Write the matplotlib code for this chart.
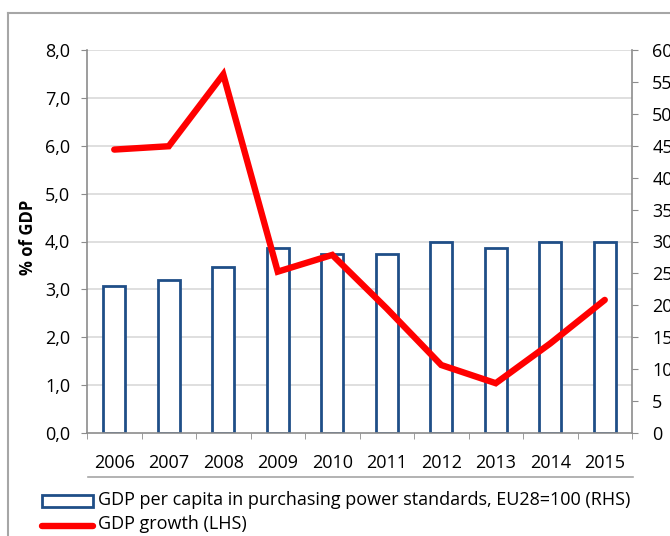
import matplotlib
matplotlib.use("Agg")
import matplotlib.pyplot as plt
from matplotlib.lines import Line2D
from matplotlib.patches import Rectangle
import numpy as np

years = ["2006", "2007", "2008", "2009", "2010", "2011", "2012", "2013", "2014", "2015"]
gdp_pc_pps = [23, 24, 26, 29, 28, 28, 30, 29, 30, 30]
gdp_growth = [5.92, 5.99, 7.49, 3.37, 3.72, 2.6, 1.42, 1.04, 1.87, 2.78]
left_ticks = [0, 1, 2, 3, 4, 5, 6, 7, 8]
right_ticks = [0, 5, 10, 15, 20, 25, 30, 35, 40, 45, 50, 55, 60]

plt.rcParams['font.family'] = ['Open Sans', 'DejaVu Sans']

W, H = 670, 536
fig = plt.figure(figsize=(W / 100, H / 100), dpi=100)

def fx(px):
    return px / W

def fy(py):
    return 1 - py / H

FS = 13
x0, x1, y0, y1 = 87, 632, 50, 433
ax = fig.add_axes([fx(x0), fy(y1), fx(x1) - fx(x0), fy(y0) - fy(y1)])
ax2 = ax.twinx()

x = np.arange(len(years))
blue = "#1F4E87"
red = "#FF0000"
gray = "#8C8C8C"

ax2.bar(x, gdp_pc_pps, width=0.41, facecolor="white", edgecolor=blue, linewidth=2.0, zorder=2)
ax2.set_ylim(0, 60)
ax2.set_yticks(right_ticks)
ax2.set_yticklabels([str(t) for t in right_ticks])

ax.set_zorder(ax2.get_zorder() + 1)
ax.patch.set_visible(False)
ax.plot(x, gdp_growth, color=red, linewidth=4.6, solid_capstyle="round", solid_joinstyle="miter", zorder=3)
ax.set_ylim(0, 8)
ax.set_yticks(left_ticks)
ax.set_yticklabels([f"{t:.1f}".replace(".", ",") for t in left_ticks])
ax.set_xlim(-0.5, len(years) - 0.5)
ax.set_xticks(x)
ax.set_xticklabels(years)
ax.set_xticks(np.arange(-0.5, len(years)), minor=True)
ax.tick_params(axis="x", which="major", length=0, pad=15, labelsize=FS)
ax.tick_params(axis="x", which="minor", length=4.5, color=gray, direction="out")

for t in left_ticks[1:]:
    ax2.axhline(t * 7.5, color="#D9D9D9", linewidth=1.2, zorder=0)

for a in (ax, ax2):
    for s in a.spines.values():
        s.set_color(gray)
        s.set_linewidth(1.2)
    a.spines["top"].set_visible(False)
ax.spines["right"].set_visible(False)
ax2.spines["left"].set_visible(False)
ax2.spines["bottom"].set_visible(False)

ax.tick_params(axis="y", length=4.5, color=gray, labelsize=FS, pad=7.5)
ax2.tick_params(axis="y", length=4.5, color=gray, labelsize=FS, pad=10)

fig.text(fx(28), fy(237), "% of GDP", fontsize=12, fontweight="bold", rotation=90,
         ha="center", va="center")

# outer frame lines
fig.add_artist(Line2D([fx(8), fx(8)], [fy(13), 0], color="#A6A6A6", linewidth=1.5))
fig.add_artist(Line2D([fx(8), 1], [fy(13), fy(13)], color="#A6A6A6", linewidth=1.5))
# line below the category labels
fig.add_artist(Line2D([fx(88), fx(633)], [fy(477), fy(477)], color="#A6A6A6", linewidth=1.2))

# legend
fig.add_artist(Rectangle((fx(42), fy(507)), fx(93) - fx(42), fy(495) - fy(507),
                         facecolor="white", edgecolor=blue, linewidth=2.0))
fig.text(fx(98), fy(500), "GDP per capita in purchasing power standards, EU28=100 (RHS)",
         fontsize=FS, va="center", ha="left")
fig.add_artist(Line2D([fx(42), fx(93)], [fy(526), fy(526)], color=red, linewidth=4.6,
                      solid_capstyle="round"))
fig.text(fx(98), fy(524), "GDP growth (LHS)", fontsize=FS, va="center", ha="left")

fig.savefig("out.png", dpi=100)
